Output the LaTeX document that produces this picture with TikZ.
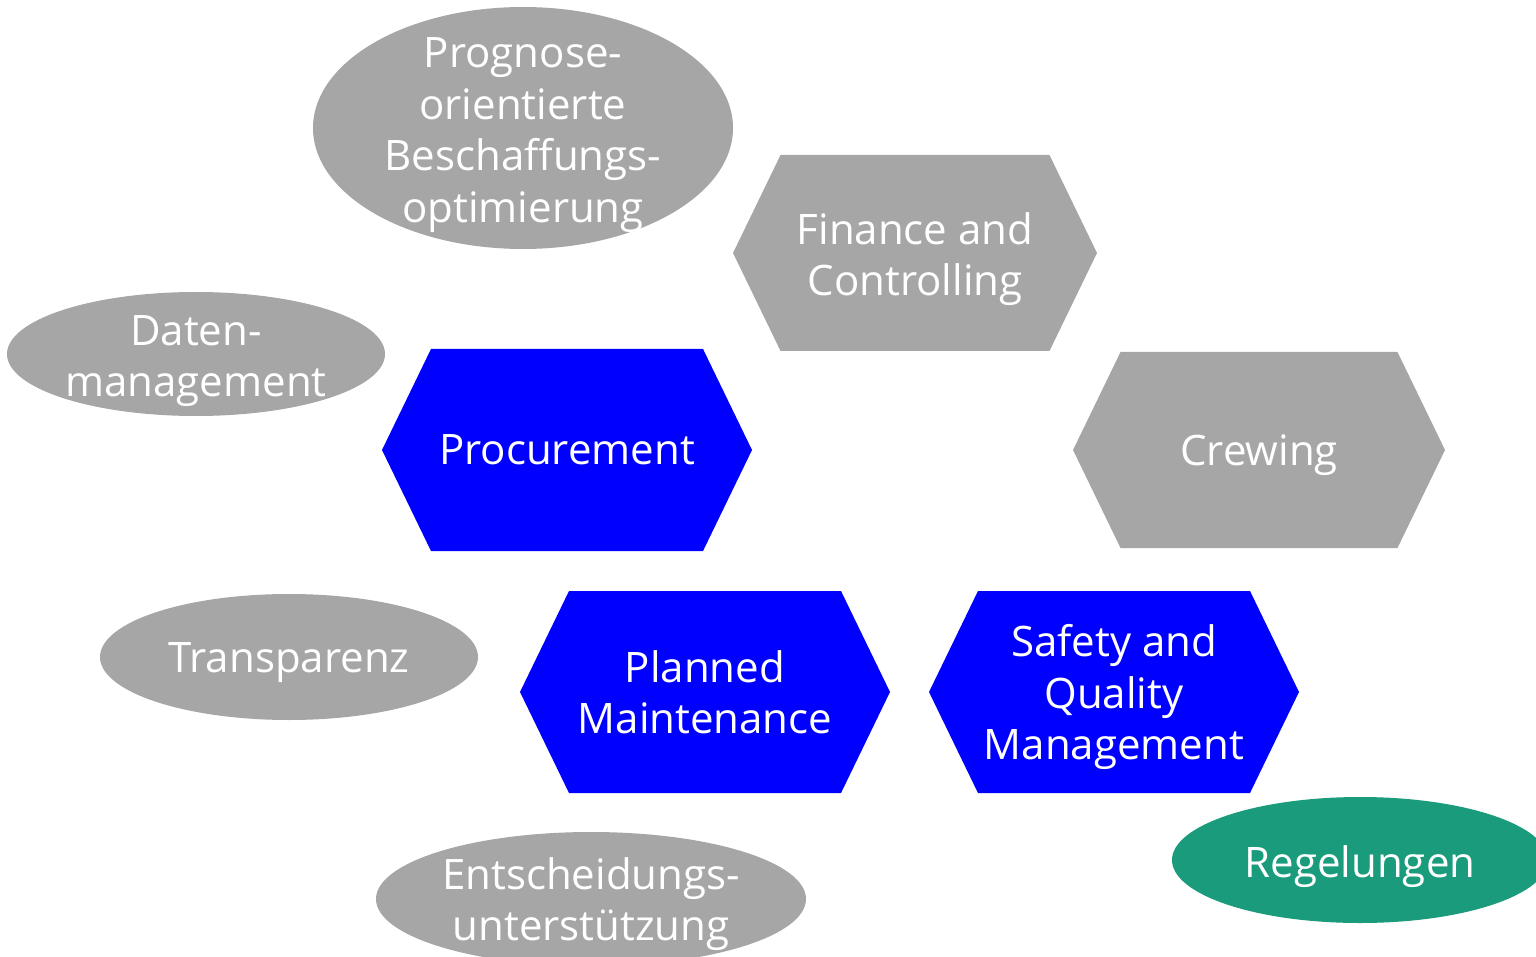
\documentclass[tikz,border=0pt]{standalone}
\usepackage{fontspec}
\setmainfont{Open Sans}
\usetikzlibrary{shapes.geometric}
\definecolor{hgray}{HTML}{A6A6A6}
\definecolor{hblue}{HTML}{0000FF}
\definecolor{hgreen}{HTML}{1A9C7C}
\tikzset{
  txt/.style={text=white, align=center, inner sep=0pt, font=\fontsize{42}{51.5}\selectfont},
  oval/.style={ellipse, draw=none, inner sep=0pt},
}
% #1 name, #2 cx, #3 cy, #4 half width, #5 half height, #6 colour, #7 text, #8 text y
\newcommand\hexa[8]{%
  \fill[#6, shift={(#2,#3)}] (-#4,0) -- ({-#4+0.485*#5},-#5) -- ({#4-0.485*#5},-#5)
     -- (#4,0) -- ({#4-0.485*#5},#5) -- ({-#4+0.485*#5},#5) -- cycle;
  \node[txt] (#1) at (#2,#8) {#7};}
\begin{document}
\begin{tikzpicture}[x=1pt,y=-1pt]
\useasboundingbox (0,0) rectangle (1536,957);
\clip (0,0) rectangle (1536,957);
% ellipses
\node[oval, fill=hgray, minimum width=420pt, minimum height=242pt] (progE) at (523,128) {};
\node[txt] (prog) at (523,135) {Prognose-\\orientierte\\Beschaffungs-\\optimierung};
\node[oval, fill=hgray, minimum width=378pt, minimum height=124pt] (datE) at (196,354) {};
\node[txt] (dat) at (196,361) {Daten-\\management};
\node[oval, fill=hgray, minimum width=378pt, minimum height=126pt] (traE) at (289,657) {};
\node[txt] (tra) at (289,663) {Transparenz};
\node[oval, fill=hgray, minimum width=430pt, minimum height=134pt] (entE) at (591,899) {};
\node[txt] (ent) at (591,904) {Entscheidungs-\\unterstützung};
\node[oval, fill=hgreen, minimum width=376pt, minimum height=126pt] (regE) at (1360,860) {};
\node[txt] (reg) at (1360,867) {Regelungen};
% hexagons
\hexa{proc}{567}{450}{185}{101}{hblue}{Procurement}{450}
\hexa{fin}{915}{253}{182}{98}{hgray}{Finance and\\Controlling}{259}
\hexa{crew}{1259}{450}{186}{98}{hgray}{Crewing}{455}
\hexa{plan}{705}{692}{185}{101}{hblue}{Planned\\Maintenance}{692}
\hexa{safe}{1114}{692}{185}{101}{hblue}{Safety and\\Quality\\Management}{697}
\end{tikzpicture}
\end{document}
